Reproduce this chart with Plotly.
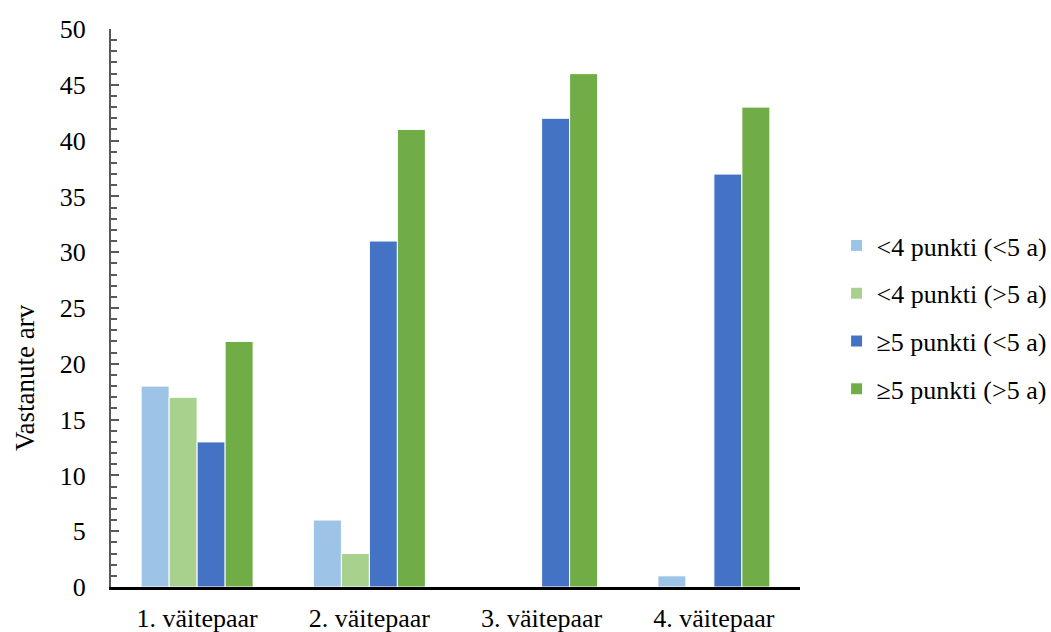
import plotly.graph_objects as go

categories = ["1. väitepaar", "2. väitepaar", "3. väitepaar", "4. väitepaar"]
series_names = ["<4 punkti (<5 a)", "<4 punkti (>5 a)", "≥5 punkti (<5 a)", "≥5 punkti (>5 a)"]
s1 = [18, 6, 0, 1]
s2 = [17, 3, 0, 0]
s3 = [13, 31, 42, 37]
s4 = [22, 41, 46, 43]
colors = ["#9DC3E6", "#A9D18E", "#4472C4", "#70AD47"]
y_title = "Vastanute arv"

fig = go.Figure()
for i, (name, vals) in enumerate(zip(series_names, [s1, s2, s3, s4])):
    fig.add_trace(go.Bar(x=categories, y=vals, name=name, legendgroup=f"g{i}",
                         marker=dict(color=colors[i], line=dict(color="white", width=1))))

ff = "Liberation Serif"
fig.update_layout(
    width=1051, height=632,
    barmode="group", bargap=0.35, bargroupgap=0,
    plot_bgcolor="white", paper_bgcolor="white",
    font=dict(family=ff, size=26, color="black"),
    margin=dict(l=111, r=251, t=29, b=45, autoexpand=False),
    legend=dict(xref="container", yref="container", x=0.796, y=0.4976,
                yanchor="middle", xanchor="left",
                font=dict(family=ff, size=26, color="black"), tracegroupgap=11, itemwidth=30),
    yaxis=dict(range=[0, 50], dtick=5, showgrid=False, automargin=False,
               showline=True, linecolor="#595959", linewidth=2,
               ticks="inside", ticklen=8, tickcolor="#595959", tickwidth=2,
               ticklabelstandoff=18, tickfont=dict(family=ff, size=26, color="black"),
               minor=dict(dtick=1, ticks="inside", ticklen=6, tickcolor="#595959", tickwidth=2),
               zeroline=False),
    xaxis=dict(showline=True, linecolor="black", linewidth=2.5, ticks="",
               showgrid=False, automargin=False, ticklabelstandoff=6,
               tickfont=dict(family=ff, size=26, color="black")),
    annotations=[dict(text=y_title, textangle=-90, xref="paper", yref="paper",
                      x=0, y=0.3746, xshift=-86, xanchor="center", yanchor="middle",
                      showarrow=False, font=dict(family=ff, size=27, color="black"))],
)
fig.write_html("out.html")
